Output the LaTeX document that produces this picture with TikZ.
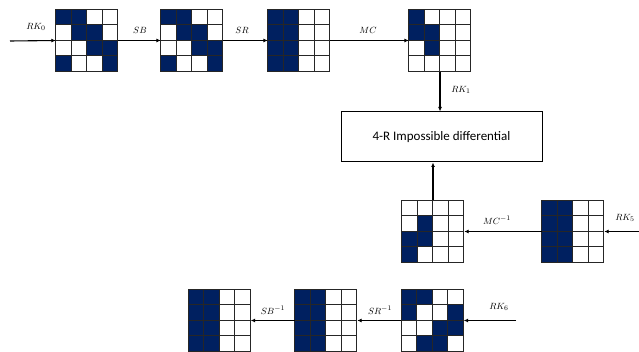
\documentclass[tikz,border=0pt]{standalone}
\usepackage{fontspec}
\setsansfont{Carlito}
\usetikzlibrary{calc,arrows.meta}
\definecolor{navy}{HTML}{002060}
\tikzset{
  gridbox/.style={minimum size=62pt,inner sep=0pt,draw=none},
  cellline/.style={draw=black!85,line width=0.8pt},
  flow/.style={line width=1.1pt,-{Latex[length=4.5pt,width=4pt]}},
  oplabel/.style={font=\fontsize{9.5}{10}\selectfont,inner sep=0pt},
  roundbox/.style={draw,line width=1pt,minimum width=201pt,minimum height=50pt,
    font=\sffamily\fontsize{13}{15}\selectfont}
}
% 4x4 state: name, centre, list of filled cells col/row
\newcommand{\stategrid}[3]{%
  \node[gridbox] (#1) at #2 {};
  \foreach \c/\r in {#3}
    \fill[navy] ($(#1.north west)+(\c*15.5,\r*15.5)$) rectangle ++(15.5,15.5);
  \foreach \i in {0,...,3}
    \foreach \j in {0,...,3}
      \draw[cellline] ($(#1.north west)+(\i*15.5,\j*15.5)$) rectangle ++(15.5,15.5);
}
\begin{document}
\begin{tikzpicture}[x=1pt,y=-1pt]
\useasboundingbox (0,0) rectangle (639,352);

% top row: forward rounds
\stategrid{g1}{(87,40.5)}{0/0,1/0,1/1,2/1,2/2,3/2,0/3,3/3}
\stategrid{g2}{(192,40.5)}{0/0,1/0,1/1,2/1,2/2,3/2,0/3,3/3}
\stategrid{g3}{(299,40.5)}{0/0,1/0,0/1,1/1,0/2,1/2,0/3,1/3}
\stategrid{g4}{(440,40.5)}{0/0,0/1,1/1,1/2}

% distinguisher
\node[roundbox] (dist) at (441.5,137) {4-R Impossible differential};

% middle row: backward rounds
\stategrid{g5}{(433,231.5)}{1/1,0/2,1/2,0/3}
\stategrid{g6}{(573,231.5)}{0/0,1/0,0/1,1/1,0/2,1/2,0/3,1/3}

% bottom row
\stategrid{g7}{(219.5,320.5)}{0/0,1/0,0/1,1/1,0/2,1/2,0/3,1/3}
\stategrid{g8}{(326,320.5)}{0/0,1/0,0/1,1/1,0/2,1/2,0/3,1/3}
\stategrid{g9}{(432.5,320.5)}{0/0,1/0,0/1,3/1,2/2,3/2,1/3,2/3}

\coordinate (in0) at (10,41);
\coordinate (in5) at (639,231.5);
\coordinate (in6) at (516,320.5);

\draw[flow] (in0) -- (g1.west);
\draw[flow] (g1.east) -- (g2.west);
\draw[flow] (g2.east) -- (g3.west);
\draw[flow] (g3.east) -- (g4.west);
\draw[flow] (g4.south) -- (g4.south |- dist.north);
\draw[flow] (g5.north) -- (g5.north |- dist.south);
\draw[flow] (in5) -- (g6.east);
\draw[flow] (g6.west) -- (g5.east);
\draw[flow] (in6) -- (g9.east);
\draw[flow] (g9.west) -- (g8.east);
\draw[flow] (g8.west) -- (g7.east);

\node[oplabel] (l0) at (36,27) {$RK_0$};
\node[oplabel] (l1) at (140,30) {$SB$};
\node[oplabel] (l2) at (242,30) {$SR$};
\node[oplabel] (l3) at (368,30) {$MC$};
\node[oplabel] (l4) at (461,90) {$RK_1$};
\node[oplabel] (l5) at (497,220) {$MC^{-1}$};
\node[oplabel] (l6) at (625,218) {$RK_5$};
\node[oplabel] (l7) at (499,307) {$RK_6$};
\node[oplabel] (l8) at (380,310) {$SR^{-1}$};
\node[oplabel] (l9) at (273,310) {$SB^{-1}$};
\end{tikzpicture}
\end{document}
